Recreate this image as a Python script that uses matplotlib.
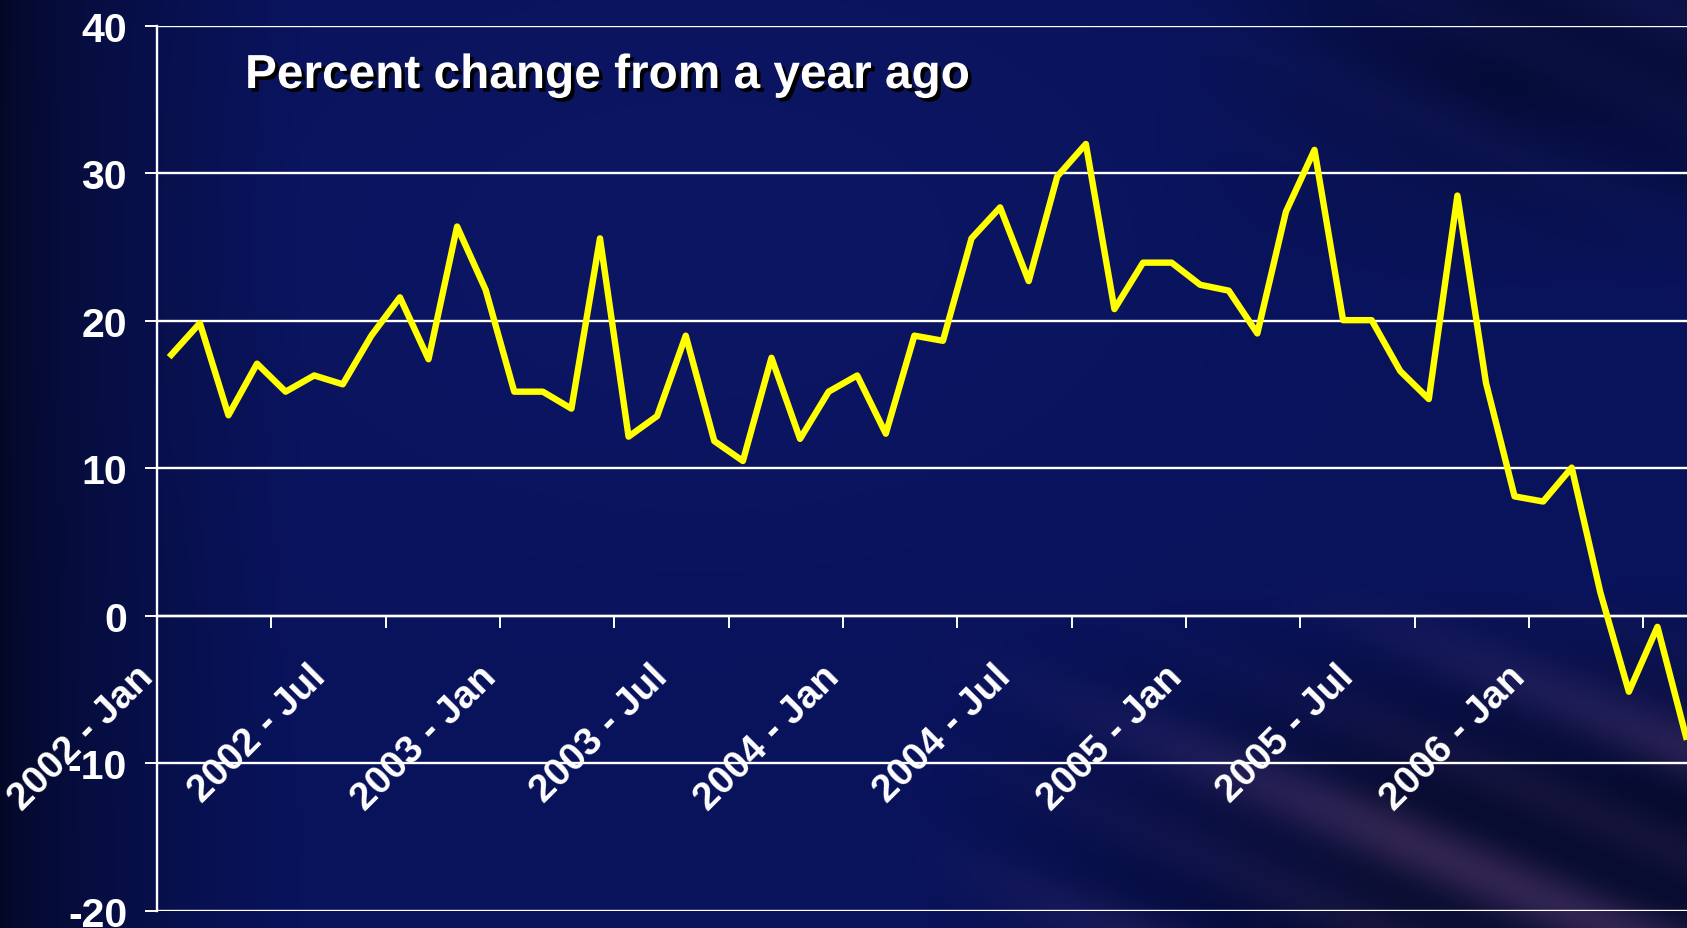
import numpy as np
import matplotlib
matplotlib.use("Agg")
import matplotlib.pyplot as plt
import matplotlib.patheffects as pe
from matplotlib.transforms import offset_copy

plt.rcParams['font.family'] = ['Liberation Sans', 'DejaVu Sans']
plt.rcParams['axes.unicode_minus'] = False

# Year-over-year percent change, monthly from Jan 2002
values = [17.7, 19.85, 13.6, 17.1, 15.2, 16.3, 15.7, 19.0, 21.6, 17.4, 26.4, 22.1,
          15.2, 15.2, 14.05, 25.6, 12.15, 13.55, 19.0, 11.85, 10.5, 17.5, 12.0, 15.2,
          16.3, 12.35, 19.0, 18.65, 25.6, 27.7, 22.7, 29.8, 32.0, 20.8, 23.95, 23.95,
          22.45, 22.05, 19.15, 27.4, 31.6, 20.05, 20.05, 16.6, 14.7, 28.5, 15.8, 8.1,
          7.75, 10.05, 1.6, -5.15, -0.75, -8.2]
tick_labels = ["2002 - Jan", "2002 - Jul", "2003 - Jan", "2003 - Jul", "2004 - Jan",
               "2004 - Jul", "2005 - Jan", "2005 - Jul", "2006 - Jan"]
label_every = 6
tick_every = 4
y_ticks = [-20, -10, 0, 10, 20, 30, 40]
title = "Percent change from a year ago"

W, H = 1687, 929
fig = plt.figure(figsize=(W / 100, H / 100), dpi=100)

# ---- slide background: deep navy with soft light streaks ----
yy, xx = np.mgrid[0:H, 0:W].astype(float)
left = np.clip(xx / 300.0, 0, 1) ** 0.6
shade = 0.40 + 0.60 * left
base = np.stack([np.full((H, W), 9.0), np.full((H, W), 19.0), np.full((H, W), 92.0)], -1) / 255.0
img = base * shade[..., None]
# faint brighter patches in the upper middle
glow = np.exp(-(((xx - 700) / 500.0) ** 2 + ((yy - 250) / 300.0) ** 2))
img += (glow * 0.025)[..., None] * np.array([0.4, 0.4, 1.0])

# streaks running down to the right
u = (yy - 0.42 * xx)
streak = 0.5 + 0.5 * np.sin(u / 23.0) * np.sin(u / 61.0 + 0.7)
streak = np.clip(streak, 0, 1) ** 1.5
wr = np.clip((xx - 900) / 500.0, 0, 1)
wb = np.clip((yy - 580) / 220.0, 0, 1) * wr
wt = np.clip((300 - yy) / 220.0, 0, 1) * np.clip((xx - 1150) / 350.0, 0, 1)
img = img * (1 - 0.50 * wb)[..., None]
img += (wb * streak * 0.19)[..., None] * np.array([0.9, 0.55, 0.7])
img = img * (1 - 0.40 * wt)[..., None]
img += (wt * streak * 0.07)[..., None] * np.array([0.5, 0.5, 1.0])
img = np.clip(img, 0, 1)

bg = fig.add_axes([0, 0, 1, 1], zorder=-10)
bg.imshow(img, aspect='auto', interpolation='bilinear')
bg.axis('off')

# ---- chart ----
x0, ytop, ybot = 157, 27, 911.7
ax = fig.add_axes([x0 / W, 1 - ybot / H, 1 - x0 / W, (ybot - ytop) / H])
ax.patch.set_alpha(0)

x = np.arange(len(values))
ax.plot(x, values, color='#FFFF00', lw=4.6, solid_joinstyle='round', zorder=5)

ax.set_ylim(-20, 40)
ax.set_xlim(-0.5, -0.5 + (W - x0) / 28.58)
ax.set_yticks(y_ticks)
ax.set_yticklabels([str(v) for v in y_ticks])
ax.yaxis.grid(True, color='white', lw=1.7)
ax.set_axisbelow(True)

for s in ['top', 'right']:
    ax.spines[s].set_visible(False)
ax.spines['left'].set_color('white')
ax.spines['left'].set_linewidth(1.7)
ax.spines['bottom'].set_position(('data', 0))
ax.spines['bottom'].set_color('white')
ax.spines['bottom'].set_linewidth(1.7)

ax.tick_params(axis='y', colors='white', direction='out', length=8.6, width=1.4,
               pad=13, labelsize=29.5)
for t in ax.get_yticklabels():
    t.set_fontweight('bold')

ax.set_xticks(np.arange(tick_every - 0.5, len(values) + 1, tick_every))
ax.set_xticklabels([])
ax.tick_params(axis='x', colors='white', direction='out', length=8.6, width=1.4)

lab_tr = offset_copy(ax.transData, fig=fig, x=-16, y=-62, units='dots')
for k, lab in enumerate(tick_labels):
    ax.text(k * label_every, 0, lab, transform=lab_tr, rotation=45,
            rotation_mode='anchor', ha='right', va='baseline',
            fontsize=28, fontweight='bold', color='white', clip_on=False)

fig.text(245 / W, 1 - 89 / H, title, fontsize=34.4, fontweight='bold', color='white',
         ha='left', va='baseline',
         path_effects=[pe.withSimplePatchShadow(offset=(2.6, -2.6),
                                                shadow_rgbFace='black', alpha=1.0)])

fig.savefig('out.png', dpi=100)
